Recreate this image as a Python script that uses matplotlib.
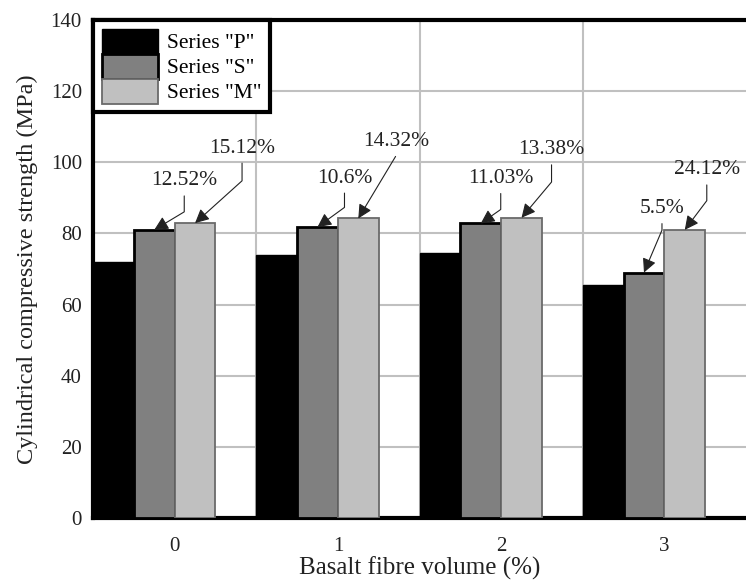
import matplotlib.pyplot as plt
import numpy as np

# 数据
volumes = ['0', '1', '2', '3']
series_p = [72.0, 74.0, 74.6, 65.4]
series_s = [81.0, 81.8, 82.8, 69.0]
series_m = [82.9, 84.2, 84.4, 81.0]
labels_s = ['12.52%', '10.6%', '11.03%', '5.5%']
labels_m = ['15.12%', '14.32%', '13.38%', '24.12%']
# 标注文字偏移(像素)和箭头角度
offs_s = [(30, 49, 31), (27, 49, 36), (20, 45, 35), (18, 64, 67)]
offs_m = [(47, 75, 42), (38, 77, 59), (30, 68, 50), (22, 60, 53)]

plt.rcParams['font.family'] = ['Liberation Serif', 'DejaVu Serif']
fig = plt.figure(figsize=(7.46, 5.81), dpi=100)
ax = fig.add_axes([0.1247, 0.1084, 0.8753, 0.8572])

x = np.arange(len(volumes))
w = 0.25
ax.bar(x - 1.5 * w, series_p, w, color='black', edgecolor='black', lw=1, label='Series "P"', zorder=3)
ax.bar(x - 0.5 * w, series_s, w, color='#808080', edgecolor='black', lw=2, label='Series "S"', zorder=3)
ax.bar(x + 0.5 * w, series_m, w, color='#c0c0c0', edgecolor='#6a6a6a', lw=1.3, label='Series "M"', zorder=3)

def note(xs, ys, texts, offs):
    for xi, yi, t, (dx, dy, ang) in zip(xs, ys, texts, offs):
        ax.annotate(t, xy=(xi, yi), xytext=(dx, dy), textcoords='offset pixels',
                    ha='center', va='center', fontsize=15.5, color='#222222',
                    arrowprops=dict(arrowstyle='-|>', color='#222222', lw=0.8,
                                    mutation_scale=21,
                                    connectionstyle='angle,angleA=90,angleB=%d,rad=0' % ang,
                                    shrinkA=2, shrinkB=0),
                    zorder=5)

note(x - 0.5 * w, series_s, labels_s, offs_s)
note(x + 0.5 * w, series_m, labels_m, offs_m)

ax.set_xlim(-0.5, 3.5)
ax.set_ylim(0, 140)
ax.set_yticks(range(0, 141, 20))
ax.set_xticks(x)
ax.set_xticklabels(volumes)
ax.set_xticks([0.5, 1.5, 2.5], minor=True)
ax.tick_params(axis='both', which='both', length=0, labelsize=15, colors='#222222')
ax.tick_params(axis='x', pad=14)
ax.tick_params(axis='y', pad=8)
ax.grid(True, axis='y', color='#c0c0c0', lw=1.5, zorder=0)
ax.grid(True, axis='x', which='minor', color='#c0c0c0', lw=1.5, zorder=0)
ax.set_axisbelow(True)

for s in ['left', 'bottom', 'top']:
    ax.spines[s].set_linewidth(3)
    ax.spines[s].set_color('black')
ax.spines['right'].set_visible(False)

ax.set_xlabel('Basalt fibre volume (%)', fontsize=18, labelpad=0, color='#222222')
ax.set_ylabel('Cylindrical compressive strength (MPa)', fontsize=17.5, labelpad=9, color='#222222')

leg = ax.legend(loc='upper left', fontsize=15.5, handlelength=2.6, handleheight=1.41,
                labelspacing=0, borderaxespad=0, borderpad=0.4, handletextpad=0.45,
                fancybox=False, framealpha=1)
leg.get_frame().set_edgecolor('black')
leg.get_frame().set_linewidth(3)
leg.set_zorder(6)

fig.savefig('out.png', dpi=100)
